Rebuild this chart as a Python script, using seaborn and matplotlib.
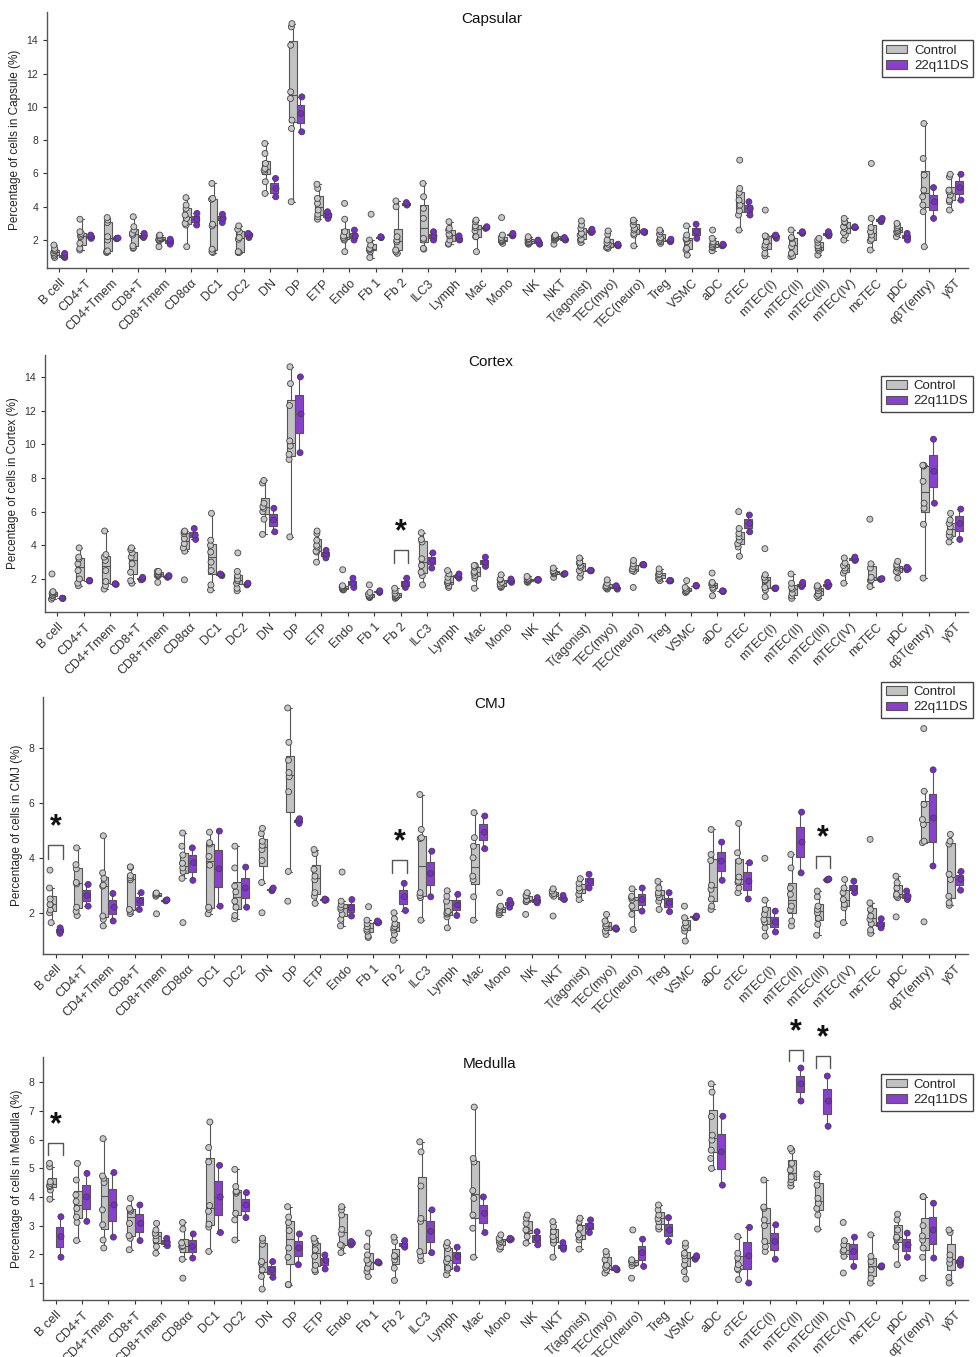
import pandas as pd
import seaborn as sns
import matplotlib.pyplot as plt

sns.set_theme(style="ticks")
plt.rcParams["font.family"] = ["Liberation Sans", "DejaVu Sans"]

cell_types = ["B cell", "CD4+T", "CD4+Tmem", "CD8+T", "CD8+Tmem", "CD8αα", "DC1", "DC2",
              "DN", "DP", "ETP", "Endo", "Fb 1", "Fb 2", "ILC3", "Lymph", "Mac", "Mono",
              "NK", "NKT", "T(agonist)", "TEC(myo)", "TEC(neuro)", "Treg", "VSMC", "aDC",
              "cTEC", "mTEC(I)", "mTEC(II)", "mTEC(III)", "mTEC(IV)", "mcTEC", "pDC",
              "αβT(entry)", "γδT"]
groups = ["Control", "22q11DS"]

# percentages per sample, one list per cell type
cap_ctrl = [
    [0.95, 1.05, 1.15, 1.25, 1.35, 1.4, 1.5, 1.7], [1.4, 1.5, 1.8, 2.2, 2.3, 2.4, 2.5, 3.25],
    [1.25, 1.3, 1.35, 2.0, 2.2, 3.05, 3.2, 3.35], [1.5, 1.55, 1.65, 2.3, 2.4, 2.6, 2.8, 3.4],
    [1.6, 1.95, 2.0, 2.05, 2.1, 2.15, 2.25, 2.3], [1.6, 2.9, 3.0, 3.3, 3.5, 3.9, 4.1, 4.55],
    [1.25, 1.3, 1.45, 2.85, 2.95, 4.45, 4.5, 5.4], [1.25, 1.25, 1.3, 2.05, 2.15, 2.5, 2.65, 2.85],
    [4.8, 5.5, 6.1, 6.2, 6.3, 6.6, 7.2, 7.8], [4.3, 8.7, 9.2, 10.5, 10.9, 13.7, 14.8, 15.0],
    [3.25, 3.4, 3.55, 3.8, 4.2, 4.5, 5.1, 5.35], [1.3, 2.0, 2.05, 2.15, 2.25, 2.5, 3.25, 4.2],
    [0.95, 1.3, 1.4, 1.45, 1.5, 1.7, 2.0, 3.55], [1.2, 1.3, 1.4, 1.9, 2.0, 2.2, 4.0, 4.35],
    [1.45, 1.5, 2.0, 2.1, 3.3, 3.9, 4.6, 5.4], [1.75, 1.8, 2.0, 2.25, 2.35, 2.6, 2.7, 3.1],
    [1.3, 2.2, 2.2, 2.55, 2.75, 2.85, 3.1, 3.2], [1.8, 1.9, 1.95, 2.0, 2.05, 2.15, 2.3, 3.35],
    [1.75, 1.8, 1.85, 1.9, 2.0, 2.05, 2.1, 2.2], [1.75, 2.0, 2.05, 2.1, 2.15, 2.2, 2.25, 2.3],
    [1.85, 2.0, 2.05, 2.3, 2.4, 2.7, 2.9, 3.15], [1.5, 1.55, 1.6, 1.75, 1.85, 2.0, 2.35, 2.55],
    [1.65, 2.3, 2.4, 2.6, 2.7, 2.9, 3.1, 3.2], [1.8, 1.9, 1.95, 2.05, 2.15, 2.35, 2.5, 2.6],
    [1.1, 1.4, 1.5, 1.9, 2.05, 2.1, 2.3, 2.85], [1.35, 1.55, 1.6, 1.7, 1.8, 1.9, 2.1, 2.6],
    [2.6, 3.5, 3.75, 4.1, 4.4, 4.85, 5.1, 6.8], [1.05, 1.2, 1.55, 1.7, 1.9, 2.2, 2.25, 3.8],
    [1.0, 1.05, 1.2, 1.6, 1.8, 2.1, 2.15, 2.6], [1.1, 1.35, 1.45, 1.55, 1.65, 1.85, 2.0, 2.1],
    [2.0, 2.3, 2.45, 2.7, 2.8, 3.05, 3.1, 3.3], [1.4, 1.95, 2.05, 2.3, 2.5, 2.75, 3.3, 6.6],
    [2.2, 2.4, 2.5, 2.55, 2.65, 2.75, 2.85, 3.0], [1.6, 3.7, 4.1, 4.6, 5.0, 5.9, 6.9, 9.0],
    [3.8, 4.3, 4.4, 4.7, 4.9, 5.0, 5.8, 5.95],
]
cap_22q = [
    [0.95, 1.05, 1.2], [2.1, 2.2, 2.3], [2.08, 2.1, 2.12], [2.15, 2.25, 2.4], [1.75, 1.95, 2.05],
    [2.9, 3.25, 3.6], [3.05, 3.3, 3.55], [2.15, 2.3, 2.4], [4.6, 5.1, 5.7], [8.5, 9.6, 10.6],
    [3.3, 3.5, 3.7], [2.0, 2.25, 2.6], [2.15, 2.15, 2.2], [4.1, 4.15, 4.25], [2.0, 2.25, 2.5],
    [2.0, 2.05, 2.25], [2.7, 2.75, 2.8], [2.25, 2.3, 2.4], [1.75, 1.85, 2.0], [2.0, 2.05, 2.15],
    [2.45, 2.5, 2.65], [1.65, 1.7, 1.75], [2.45, 2.5, 2.5], [1.9, 1.95, 2.05], [2.1, 2.5, 2.95],
    [1.65, 1.7, 1.75], [3.5, 3.9, 4.3], [2.1, 2.25, 2.3], [2.4, 2.45, 2.5], [2.25, 2.35, 2.5],
    [2.75, 2.75, 2.8], [3.1, 3.2, 3.3], [2.0, 2.2, 2.4], [3.3, 4.3, 5.15], [4.4, 5.15, 5.95],
]

cor_ctrl = [
    [0.8, 0.9, 1.0, 1.05, 1.15, 1.2, 1.25, 2.3], [1.6, 1.75, 2.0, 2.5, 2.9, 3.2, 3.3, 3.85],
    [1.4, 1.6, 1.85, 2.5, 3.1, 3.3, 3.45, 4.85], [1.75, 1.9, 2.4, 2.9, 3.3, 3.55, 3.75, 3.85],
    [1.8, 2.2, 2.2, 2.25, 2.3, 2.4, 2.45, 2.45], [1.95, 3.65, 3.85, 4.1, 4.4, 4.7, 4.8, 4.85],
    [1.35, 1.65, 2.5, 3.0, 3.6, 4.0, 4.3, 5.9], [1.3, 1.45, 1.75, 1.9, 2.0, 2.2, 2.45, 3.55],
    [4.65, 5.55, 6.0, 6.2, 6.3, 6.5, 7.7, 7.85], [4.5, 9.1, 9.4, 9.9, 10.2, 12.3, 13.6, 14.6],
    [3.0, 3.6, 3.65, 3.9, 4.0, 4.3, 4.7, 4.85], [1.35, 1.38, 1.4, 1.45, 1.5, 1.55, 1.6, 2.55],
    [0.9, 0.92, 0.95, 1.0, 1.05, 1.1, 1.2, 1.65], [0.85, 0.9, 0.95, 1.0, 1.05, 1.15, 1.3, 1.45],
    [1.65, 2.2, 2.4, 2.8, 3.2, 4.2, 4.35, 4.75], [1.5, 1.6, 1.75, 1.8, 1.9, 2.1, 2.3, 2.5],
    [1.45, 2.05, 2.2, 2.35, 2.45, 2.7, 2.8, 2.8], [1.5, 1.55, 1.6, 1.7, 1.8, 1.95, 2.0, 2.25],
    [1.8, 1.85, 1.9, 1.95, 2.0, 2.05, 2.15], [2.1, 2.3, 2.35, 2.4, 2.45, 2.5, 2.65],
    [2.1, 2.35, 2.5, 2.7, 2.8, 2.95, 3.0, 3.25], [1.4, 1.45, 1.5, 1.55, 1.6, 1.75, 1.95],
    [1.5, 2.45, 2.5, 2.6, 2.75, 2.9, 3.1], [1.9, 2.0, 2.1, 2.25, 2.3, 2.45, 2.6],
    [1.2, 1.25, 1.3, 1.4, 1.5, 1.9], [1.0, 1.4, 1.5, 1.65, 1.75, 1.8, 2.35],
    [3.35, 3.9, 4.1, 4.3, 4.5, 4.7, 5.0, 6.0], [0.95, 1.35, 1.5, 1.9, 1.95, 2.1, 2.25, 3.8],
    [0.85, 1.0, 1.15, 1.4, 1.5, 1.75, 2.3], [0.9, 1.0, 1.1, 1.3, 1.45, 1.5, 1.6],
    [1.75, 2.35, 2.5, 2.65, 2.8, 2.95, 3.25], [1.55, 1.9, 1.95, 2.1, 2.65, 2.9, 5.55],
    [2.05, 2.4, 2.45, 2.65, 2.75, 2.85, 3.05], [2.05, 5.25, 6.2, 6.5, 7.8, 8.7, 8.75, 8.75],
    [4.2, 4.5, 4.6, 4.8, 5.1, 5.3, 5.5, 5.9],
]
cor_22q = [
    [0.85, 0.85, 0.86], [1.88, 1.9, 1.92], [1.68, 1.7, 1.72], [1.95, 2.0, 2.1], [2.1, 2.15, 2.2],
    [4.35, 4.6, 5.0], [2.2, 2.25, 2.3], [1.65, 1.7, 1.75], [4.8, 5.5, 6.2], [9.5, 11.8, 14.0],
    [3.25, 3.5, 3.7], [1.5, 1.75, 2.05], [1.2, 1.25, 1.3], [1.5, 1.7, 2.05], [2.65, 3.1, 3.55],
    [2.05, 2.15, 2.3], [2.75, 3.0, 3.3], [1.8, 1.9, 2.0], [1.92, 1.95, 1.98], [2.28, 2.3, 2.32],
    [2.48, 2.5, 2.52], [1.4, 1.5, 1.6], [2.83, 2.85, 2.87], [1.88, 1.9, 1.92], [1.58, 1.6, 1.62],
    [1.25, 1.28, 1.3], [4.8, 5.3, 5.8], [1.43, 1.45, 1.47], [1.55, 1.66, 1.8], [1.55, 1.65, 1.8],
    [3.1, 3.15, 3.3], [1.98, 2.0, 2.02], [2.55, 2.6, 2.7], [6.5, 8.4, 10.3], [4.35, 5.3, 6.15],
]

cmj_ctrl = [
    [1.64, 2.0, 2.1, 2.3, 2.3, 2.5, 2.9, 3.55], [1.9, 2.05, 2.2, 3.05, 3.1, 3.6, 3.75, 4.36],
    [1.52, 1.76, 1.88, 2.97, 3.0, 3.25, 3.45, 4.8], [1.97, 2.05, 2.12, 3.2, 3.27, 3.35, 3.65, 3.67],
    [1.96, 2.6, 2.65, 2.7, 2.72], [1.64, 3.25, 3.5, 3.63, 3.8, 4.1, 4.42, 4.9],
    [1.96, 2.12, 2.2, 3.73, 4.05, 4.5, 4.55, 4.93], [1.78, 1.9, 2.2, 2.42, 2.76, 2.97, 3.63, 4.42],
    [2.0, 3.1, 3.9, 4.3, 4.45, 4.6, 4.88, 5.07], [2.42, 3.5, 6.4, 6.95, 7.1, 7.55, 8.2, 9.45],
    [2.34, 2.6, 2.73, 3.2, 3.33, 3.58, 4.15, 4.3], [1.52, 1.76, 1.94, 2.12, 2.2, 2.3, 2.42, 3.48],
    [1.1, 1.15, 1.33, 1.4, 1.49, 1.6, 1.73, 2.22], [1.0, 1.21, 1.37, 1.45, 1.5, 1.6, 1.78, 2.0],
    [1.73, 2.55, 2.63, 2.73, 4.7, 4.73, 5.03, 6.3], [1.45, 1.85, 1.95, 2.0, 2.05, 2.42, 2.6, 2.8],
    [1.73, 2.58, 3.2, 3.33, 4.0, 4.42, 4.73, 5.64], [1.93, 2.0, 2.06, 2.12, 2.2, 2.24, 2.73],
    [1.94, 2.4, 2.42, 2.48, 2.6, 2.63, 2.73], [1.88, 2.6, 2.67, 2.7, 2.79, 2.87],
    [2.48, 2.67, 2.8, 2.9, 3.07, 3.24], [1.21, 1.33, 1.45, 1.52, 1.6, 1.7, 1.94],
    [1.39, 1.94, 2.24, 2.48, 2.55, 2.6, 2.87], [2.12, 2.42, 2.55, 2.65, 2.73, 2.9, 3.14],
    [0.97, 1.33, 1.45, 1.52, 1.64, 1.82, 2.24], [2.12, 2.24, 2.5, 2.85, 3.0, 3.9, 4.12, 5.03],
    [2.73, 2.9, 3.1, 3.15, 3.3, 3.88, 4.18, 5.25], [1.15, 1.45, 1.66, 1.76, 1.94, 2.12, 2.46, 3.98],
    [1.52, 1.7, 2.1, 2.24, 2.67, 2.9, 3.63, 4.12], [1.18, 1.58, 1.8, 2.0, 2.12, 2.24, 2.58, 2.79],
    [1.64, 2.18, 2.3, 2.48, 2.73, 2.9, 3.21], [1.25, 1.37, 1.6, 1.76, 1.88, 2.12, 2.36, 4.67],
    [1.85, 2.55, 2.6, 2.67, 2.9, 3.09, 3.33], [1.67, 4.55, 4.6, 5.21, 5.39, 5.94, 6.42, 8.7],
    [2.27, 2.36, 2.6, 3.21, 3.4, 4.5, 4.6, 4.85],
]
cmj_22q = [
    [1.25, 1.35, 1.45], [2.24, 2.63, 3.03], [1.7, 2.2, 2.7], [2.12, 2.42, 2.73], [2.43, 2.45, 2.47],
    [3.18, 3.82, 4.36], [2.24, 3.6, 4.97], [2.2, 2.9, 3.66], [2.8, 2.85, 2.9], [5.25, 5.35, 5.42],
    [2.45, 2.47, 2.5], [1.88, 2.18, 2.48], [1.63, 1.65, 1.7], [2.08, 2.58, 3.07], [2.58, 3.43, 4.24],
    [1.9, 2.28, 2.67], [4.33, 4.93, 5.52], [2.2, 2.34, 2.45], [2.36, 2.42, 2.55], [2.48, 2.5, 2.63],
    [2.9, 3.15, 3.4], [1.4, 1.42, 1.45], [2.06, 2.48, 2.9], [2.04, 2.36, 2.73], [1.82, 1.85, 1.88],
    [3.18, 3.88, 4.57], [2.5, 3.15, 3.82], [1.3, 1.66, 2.06], [3.45, 4.57, 5.66], [3.19, 3.21, 3.23],
    [2.73, 2.9, 3.15], [1.45, 1.58, 1.78], [2.48, 2.6, 2.79], [3.7, 5.45, 7.2], [2.82, 3.21, 3.5],
]

med_ctrl = [
    [3.92, 4.24, 4.36, 4.4, 4.47, 4.53, 5.05, 5.17], [2.48, 3.11, 3.3, 3.6, 3.84, 4.07, 4.59, 5.17],
    [2.22, 2.5, 3.03, 3.55, 4.5, 4.65, 4.73, 6.03], [2.16, 2.56, 2.65, 3.08, 3.5, 3.55, 3.6, 3.95],
    [2.04, 2.27, 2.5, 2.65, 2.74, 2.85, 3.08], [1.17, 1.83, 2.16, 2.27, 2.3, 2.4, 2.88, 3.11],
    [2.1, 2.95, 3.05, 3.5, 3.7, 5.22, 5.72, 6.61], [2.5, 3.2, 3.43, 4.13, 4.18, 4.2, 4.36, 4.96],
    [0.79, 1.23, 1.46, 1.69, 1.75, 2.35, 2.48, 2.56], [0.94, 0.95, 1.9, 2.22, 2.83, 3.11, 3.3, 3.66],
    [1.4, 1.46, 1.62, 1.93, 2.16, 2.39, 2.45, 2.56], [2.06, 2.3, 2.33, 2.71, 2.87, 3.37, 3.55, 3.66],
    [1.23, 1.4, 1.52, 1.69, 1.8, 1.98, 2.27, 2.74], [1.09, 1.52, 1.81, 1.93, 1.95, 2.45, 2.6],
    [1.78, 1.95, 2.1, 3.15, 3.25, 4.38, 5.57, 5.92], [1.29, 1.45, 1.52, 1.75, 1.85, 2.2, 2.3, 2.41],
    [1.9, 2.91, 3.37, 3.95, 4.22, 5.22, 5.34, 7.13], [2.18, 2.27, 2.39, 2.45, 2.5, 2.56, 2.68],
    [2.39, 2.62, 2.85, 2.85, 3.08, 3.26, 3.37], [1.9, 2.39, 2.5, 2.62, 2.79, 2.97, 3.14],
    [2.18, 2.5, 2.6, 2.68, 2.91, 3.14, 3.26], [1.35, 1.46, 1.55, 1.62, 1.81, 1.98, 2.1],
    [1.17, 1.6, 1.69, 1.75, 1.81, 2.85], [2.88, 2.97, 3.14, 3.25, 3.37, 3.55, 3.72],
    [1.14, 1.4, 1.64, 1.81, 1.95, 2.04, 2.27, 2.39], [4.99, 5.34, 5.63, 5.98, 6.15, 6.8, 7.65, 7.94],
    [1.12, 1.46, 1.5, 1.64, 1.87, 2.04, 2.62], [2.1, 2.27, 2.45, 3.0, 3.2, 3.6, 3.65, 4.59],
    [4.38, 4.5, 4.6, 4.7, 4.94, 5.17, 5.6, 5.69], [2.88, 3.37, 3.6, 3.78, 3.95, 4.41, 4.7, 4.8],
    [1.35, 1.93, 2.1, 2.15, 2.33, 2.48, 3.11], [1.0, 1.17, 1.46, 1.75, 1.93, 2.68],
    [1.64, 2.27, 2.56, 2.6, 2.85, 3.2, 3.4], [1.17, 1.9, 2.22, 2.5, 2.64, 3.0, 4.01, 4.01],
    [1.0, 1.2, 1.69, 1.83, 1.98, 2.76, 2.85],
]
med_22q = [
    [1.9, 2.62, 3.31], [3.15, 4.0, 4.82], [2.6, 3.72, 4.85], [2.48, 3.08, 3.72], [2.3, 2.42, 2.56],
    [1.87, 2.27, 2.71], [2.76, 4.0, 5.1], [3.28, 3.72, 4.15], [1.2, 1.46, 1.75], [1.64, 2.22, 2.71],
    [1.49, 1.79, 1.98], [2.33, 2.39, 2.45], [1.7, 1.72, 1.74], [2.25, 2.33, 2.48], [2.06, 2.8, 3.55],
    [1.5, 1.93, 2.25], [2.76, 3.43, 4.0], [2.5, 2.53, 2.56], [2.33, 2.56, 2.79], [2.18, 2.27, 2.41],
    [2.76, 2.99, 3.2], [1.46, 1.48, 1.52], [1.58, 2.06, 2.53], [2.45, 2.85, 3.28], [1.83, 1.9, 1.95],
    [4.41, 5.57, 6.81], [1.0, 1.95, 2.94], [1.83, 2.45, 3.03], [7.34, 7.94, 8.49], [6.46, 7.34, 8.21],
    [1.58, 2.1, 2.6], [1.56, 1.58, 1.6], [1.9, 2.33, 2.74], [1.87, 2.85, 3.78], [1.62, 1.75, 1.83],
]

# significant comparisons: (cell type, bracket height, bracket foot)
cor_sig = [("Fb 2", 3.74, 2.95)]
cmj_sig = [("B cell", 4.45, 3.94), ("Fb 2", 3.92, 3.45), ("mTEC(III)", 4.08, 3.64)]
med_sig = [("B cell", 5.88, 5.46), ("mTEC(II)", 9.12, 8.72), ("mTEC(III)", 8.9, 8.5)]

box_colors = {"Control": "#c2c2c2", "22q11DS": "#8a40cf"}
dot_colors = {"Control": "#c8c8c8", "22q11DS": "#7a2ad0"}


def long_table(ctrl, dis):
    rows = []
    for cell, c_vals, d_vals in zip(cell_types, ctrl, dis):
        rows += [(cell, "Control", v) for v in c_vals]
        rows += [(cell, "22q11DS", v) for v in d_vals]
    return pd.DataFrame(rows, columns=["cell", "group", "pct"])


panels = [
    ("Capsular", "Percentage of cells in Capsule (%)", cap_ctrl, cap_22q, (0.32, 15.7),
     range(2, 15, 2), [0.048, 0.8025, 0.940, 0.1887], 0.89, []),
    ("Cortex", "Percentage of cells in Cortex (%)", cor_ctrl, cor_22q, (0.04, 15.3),
     range(2, 15, 2), [0.046, 0.549, 0.942, 0.1894], 0.92, cor_sig),
    ("CMJ", "Percentage of cells in CMJ (%)", cmj_ctrl, cmj_22q, (0.5, 9.85),
     range(2, 9, 2), [0.044, 0.297, 0.944, 0.1894], 1.06, cmj_sig),
    ("Medulla", "Percentage of cells in Medulla (%)", med_ctrl, med_22q, (0.41, 8.87),
     range(1, 9), [0.044, 0.042, 0.944, 0.179], 0.93, med_sig),
]

fig = plt.figure(figsize=(9.8, 13.57), dpi=100)

for title, ylabel, ctrl, dis, ylim, yticks, rect, leg_y, sig in panels:
    ax = fig.add_axes(rect)
    df = long_table(ctrl, dis)
    sns.boxplot(data=df, x="cell", y="pct", hue="group", order=cell_types, hue_order=groups,
                palette=box_colors, saturation=1, width=0.6, gap=0, showfliers=False,
                linewidth=0.8, linecolor="#555555", ax=ax)
    sns.stripplot(data=df, x="cell", y="pct", hue="group", order=cell_types, hue_order=groups,
                  palette=dot_colors, dodge=True, jitter=0.07, size=4.3, linewidth=0.6,
                  edgecolor="#444444", legend=False, ax=ax)

    handles, labels = ax.get_legend_handles_labels()
    ax.legend(handles, labels, loc="upper left", bbox_to_anchor=(0.906, leg_y), fontsize=9.5,
              frameon=True, fancybox=False, edgecolor="#444444", framealpha=1,
              handlelength=1.6, handleheight=0.6, handletextpad=0.5, borderpad=0.35,
              labelspacing=0.25, borderaxespad=0)

    ax.set_ylim(*ylim)
    ax.set_yticks(list(yticks))
    ax.set_xlim(-0.47, 34.5)
    ax.set_xlabel("")
    ax.set_ylabel(ylabel, fontsize=8.5, color="#222222")
    ax.text(0.483, 0.973, title, transform=ax.transAxes, ha="center", va="center",
            fontsize=11, color="#111111")
    ax.tick_params(axis="y", labelsize=7.5, length=3, width=0.8, colors="#333333")
    ax.tick_params(axis="x", labelsize=9, length=3, width=0.8, colors="#333333")
    plt.setp(ax.get_xticklabels(), rotation=45, ha="right", rotation_mode="anchor")
    sns.despine(ax=ax)
    for side in ["left", "bottom"]:
        ax.spines[side].set_color("#555555")
        ax.spines[side].set_linewidth(1.0)

    for cell, top, foot in sig:
        i = cell_types.index(cell)
        ax.plot([i - 0.27, i - 0.27, i + 0.27, i + 0.27], [foot, top, top, foot],
                color="#555555", lw=1.0, clip_on=False)
        ax.annotate("*", xy=(i, top), xytext=(0, 2), textcoords="offset points",
                    ha="center", va="bottom", fontsize=22, fontweight="bold",
                    color="#111111", annotation_clip=False)

fig.savefig("out.png", dpi=100)
